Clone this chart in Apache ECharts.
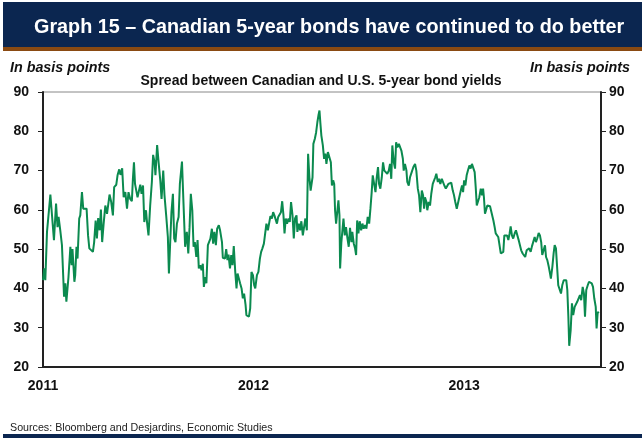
<!DOCTYPE html>
<html>
<head>
<meta charset="utf-8">
<script src="https://cdn.jsdelivr.net/npm/echarts@6/dist/echarts.min.js"></script>
<style>
  html, body { margin: 0; padding: 0; background: #fff; }
  #chart { width: 642px; height: 438px; }
</style>
</head>
<body>
<div id="chart"></div>
<script>
// Spread between Canadian and U.S. 5-year bond yields, in basis points.
// Time is given as decimal years.
const years = [
  2011.000, 2011.006, 2011.011, 2011.019, 2011.027, 2011.035, 2011.044, 2011.052, 2011.062, 2011.069,
  2011.074, 2011.082, 2011.090, 2011.100, 2011.106, 2011.111, 2011.121, 2011.130, 2011.136, 2011.140,
  2011.149, 2011.153, 2011.159, 2011.164, 2011.172, 2011.177, 2011.185, 2011.191, 2011.197, 2011.207,
  2011.214, 2011.220, 2011.228, 2011.237, 2011.243, 2011.250, 2011.256, 2011.262, 2011.269, 2011.275,
  2011.281, 2011.288, 2011.296, 2011.304, 2011.310, 2011.316, 2011.324, 2011.332, 2011.338, 2011.348,
  2011.354, 2011.362, 2011.368, 2011.376, 2011.383, 2011.391, 2011.399, 2011.406, 2011.414, 2011.422,
  2011.427, 2011.432, 2011.437, 2011.443, 2011.449, 2011.456, 2011.462, 2011.468, 2011.475, 2011.481,
  2011.489, 2011.494, 2011.501, 2011.509, 2011.517, 2011.523, 2011.530, 2011.534, 2011.542, 2011.549,
  2011.557, 2011.563, 2011.571, 2011.577, 2011.585, 2011.593, 2011.598, 2011.604, 2011.610, 2011.617,
  2011.623, 2011.629, 2011.636, 2011.644, 2011.650, 2011.660, 2011.667, 2011.675, 2011.683, 2011.690,
  2011.696, 2011.702, 2011.709, 2011.715, 2011.721, 2011.728, 2011.734, 2011.740, 2011.747, 2011.753,
  2011.759, 2011.764, 2011.770, 2011.776, 2011.783, 2011.789, 2011.795, 2011.802, 2011.808, 2011.814,
  2011.821, 2011.827, 2011.835, 2011.841, 2011.850, 2011.854, 2011.864, 2011.870, 2011.876, 2011.881,
  2011.888, 2011.894, 2011.900, 2011.906, 2011.913, 2011.919, 2011.924, 2011.930, 2011.936, 2011.943,
  2011.949, 2011.955, 2011.962, 2011.966, 2011.978, 2011.984, 2011.990, 2011.997, 2012.003, 2012.008,
  2012.016, 2012.023, 2012.030, 2012.036, 2012.042, 2012.049, 2012.055, 2012.061, 2012.068, 2012.074,
  2012.080, 2012.087, 2012.093, 2012.099, 2012.106, 2012.111, 2012.117, 2012.123, 2012.130, 2012.136,
  2012.142, 2012.147, 2012.153, 2012.159, 2012.166, 2012.172, 2012.178, 2012.185, 2012.191, 2012.197,
  2012.204, 2012.208, 2012.215, 2012.221, 2012.227, 2012.234, 2012.240, 2012.246, 2012.253, 2012.259,
  2012.265, 2012.271, 2012.280, 2012.284, 2012.291, 2012.297, 2012.303, 2012.308, 2012.313, 2012.317,
  2012.322, 2012.329, 2012.335, 2012.341, 2012.346, 2012.353, 2012.360, 2012.367, 2012.372, 2012.378,
  2012.383, 2012.387, 2012.392, 2012.398, 2012.403, 2012.408, 2012.411, 2012.417, 2012.427, 2012.433,
  2012.439, 2012.446, 2012.452, 2012.458, 2012.465, 2012.469, 2012.476, 2012.482, 2012.487, 2012.492,
  2012.498, 2012.504, 2012.511, 2012.517, 2012.523, 2012.530, 2012.536, 2012.542, 2012.549, 2012.555,
  2012.561, 2012.566, 2012.572, 2012.579, 2012.585, 2012.591, 2012.596, 2012.602, 2012.609, 2012.615,
  2012.621, 2012.629, 2012.635, 2012.642, 2012.648, 2012.654, 2012.659, 2012.666, 2012.672, 2012.677,
  2012.683, 2012.690, 2012.696, 2012.702, 2012.709, 2012.713, 2012.719, 2012.726, 2012.730, 2012.737,
  2012.743, 2012.751, 2012.759, 2012.767, 2012.773, 2012.780, 2012.786, 2012.792, 2012.799, 2012.805,
  2012.810, 2012.814, 2012.821, 2012.825, 2012.832, 2012.838, 2012.844, 2012.851, 2012.857, 2012.863,
  2012.868, 2012.875, 2012.881, 2012.887, 2012.894, 2012.900, 2012.906, 2012.913, 2012.919, 2012.925,
  2012.933, 2012.939, 2012.946, 2012.952, 2012.958, 2012.965, 2012.971, 2012.977, 2012.984, 2012.990,
  2012.995, 2013.000, 2013.006, 2013.012, 2013.018, 2013.025, 2013.031, 2013.037, 2013.044, 2013.050,
  2013.055, 2013.060, 2013.066, 2013.072, 2013.079, 2013.085, 2013.090, 2013.094, 2013.099, 2013.104,
  2013.110, 2013.117, 2013.123, 2013.132, 2013.139, 2013.145, 2013.150, 2013.156, 2013.162, 2013.167,
  2013.174, 2013.180, 2013.186, 2013.191, 2013.197, 2013.204, 2013.210, 2013.216, 2013.221, 2013.227,
  2013.233, 2013.240, 2013.246, 2013.252, 2013.259, 2013.265, 2013.271, 2013.278, 2013.284, 2013.290,
  2013.297, 2013.303, 2013.309, 2013.316, 2013.322, 2013.328, 2013.335, 2013.341, 2013.347, 2013.354,
  2013.360, 2013.366, 2013.371, 2013.378, 2013.384, 2013.389, 2013.395, 2013.402, 2013.408, 2013.412,
  2013.419, 2013.425, 2013.430, 2013.436, 2013.442, 2013.447, 2013.454, 2013.460, 2013.466, 2013.473,
  2013.479, 2013.485, 2013.490, 2013.495, 2013.499, 2013.506, 2013.512, 2013.518, 2013.525, 2013.531,
  2013.537, 2013.544, 2013.550, 2013.556, 2013.563, 2013.569, 2013.574, 2013.580, 2013.587, 2013.593,
  2013.599, 2013.606, 2013.612, 2013.618, 2013.625, 2013.629, 2013.634, 2013.639
];

const spread = [
  42.1, 45.1, 42.1, 54.4, 54.8, 63.9, 63.7, 52.3, 61.6, 55.6,
  58.2, 54.8, 51.0, 37.9, 41.3, 36.6, 42.9, 50.6, 45.9, 50.0,
  41.7, 43.4, 50.6, 47.6, 57.8, 58.6, 64.5, 60.3, 60.7, 60.3,
  53.5, 50.2, 49.7, 49.3, 51.8, 57.3, 52.7, 57.9, 54.8, 60.1,
  51.8, 56.5, 61.1, 59.0, 58.8, 63.9, 62.0, 58.6, 65.8, 66.4,
  68.8, 70.3, 68.9, 70.6, 63.2, 64.5, 60.3, 64.5, 62.8, 62.2,
  67.9, 72.1, 66.6, 67.1, 63.2, 63.0, 66.4, 64.1, 66.2, 56.9,
  59.9, 56.9, 53.5, 61.1, 67.1, 74.0, 72.1, 68.8, 76.5, 72.1,
  67.5, 62.8, 70.0, 63.7, 58.6, 53.1, 43.8, 44.2, 59.4, 64.1,
  52.7, 51.8, 56.5, 58.2, 66.6, 72.3, 62.0, 50.6, 54.4, 48.9,
  55.6, 64.1, 59.9, 50.6, 51.8, 48.0, 52.3, 45.1, 45.9, 44.6,
  46.3, 40.4, 42.9, 41.3, 51.0, 50.6, 52.7, 55.2, 51.4, 54.4,
  51.0, 55.2, 56.1, 54.8, 51.8, 47.8, 47.6, 50.0, 47.2, 48.6,
  45.1, 48.5, 45.9, 50.8, 44.2, 40.0, 43.8, 43.4, 41.3, 40.0,
  37.5, 38.7, 35.8, 33.2, 32.8, 34.9, 44.2, 43.4, 40.8, 40.0,
  43.4, 44.2, 47.6, 49.3, 50.2, 51.4, 51.8, 56.5, 54.8, 54.4,
  58.4, 57.8, 59.4, 58.6, 58.8, 56.5, 58.2, 58.6, 59.4, 62.2,
  58.6, 54.0, 57.8, 56.5, 57.8, 56.9, 62.0, 58.6, 52.7, 57.8,
  58.6, 54.4, 56.5, 54.8, 57.1, 53.5, 53.1, 57.8, 54.8, 74.3,
  68.3, 64.9, 68.3, 76.8, 78.1, 79.7, 82.3, 84.0, 85.3, 82.3,
  78.9, 76.4, 73.0, 74.3, 71.7, 74.7, 74.3, 72.1, 66.2, 67.5,
  66.6, 59.9, 56.5, 56.1, 62.4, 58.6, 45.1, 51.8, 57.8, 53.5,
  55.6, 52.7, 50.6, 55.4, 51.8, 54.4, 51.4, 50.2, 48.5, 57.3,
  54.0, 57.1, 54.8, 56.5, 55.2, 56.1, 55.2, 58.2, 56.5, 60.3,
  64.5, 68.8, 68.8, 64.5, 68.3, 70.9, 66.6, 65.4, 68.3, 72.1,
  70.0, 69.6, 69.2, 70.0, 71.7, 67.9, 76.4, 72.1, 70.5, 77.2,
  75.9, 76.8, 76.5, 75.1, 73.0, 70.0, 71.7, 70.0, 67.1, 66.2,
  68.3, 69.6, 70.9, 71.7, 70.0, 65.4, 63.7, 59.4, 64.9, 63.7,
  60.3, 63.2, 62.0, 59.9, 62.0, 61.1, 64.1, 66.6, 66.9, 68.3,
  69.2, 67.1, 67.9, 66.6, 67.9, 67.5, 66.2, 65.4, 66.0, 66.6,
  66.6, 66.9, 64.9, 63.7, 62.0, 60.3, 60.3, 63.2, 64.9, 66.2,
  64.5, 67.5, 66.2, 68.8, 70.0, 71.3, 70.5, 71.7, 72.1, 69.6,
  65.8, 61.1, 61.6, 63.2, 65.4, 63.7, 65.4, 63.2, 59.0, 59.9,
  61.1, 61.3, 60.9, 60.6, 57.3, 55.6, 54.0, 54.4, 53.1, 51.4,
  48.9, 48.7, 49.3, 53.5, 54.0, 53.5, 52.3, 54.0, 55.8, 53.5,
  52.7, 54.0, 54.8, 54.4, 52.3, 51.0, 49.7, 48.9, 48.9, 48.0,
  49.7, 49.3, 50.2, 49.3, 50.7, 51.2, 53.1, 51.8, 52.7, 54.1,
  53.5, 51.8, 48.5, 48.2, 51.0, 48.0, 47.2, 45.5, 43.8, 42.5,
  45.5, 48.9, 51.0, 50.2, 49.7, 40.8, 40.4, 38.7, 40.8, 42.1,
  41.7, 42.1, 39.6, 32.8, 25.4, 29.4, 36.2, 33.2, 35.3, 35.8,
  36.6, 36.2, 38.3, 37.0, 40.4, 38.7, 32.8, 39.6, 40.8, 41.7,
  41.3, 41.3, 40.4, 37.5, 35.3, 29.8, 33.7, 34.1
];

// Axis settings
const yearLabels = [2011, 2012, 2013];
const xRange = [2011, 2013.65];
const yRange = [20, 90];
const yStep = 10;

const titleText = 'Graph 15 \u2013 Canadian 5-year bonds have continued to do better';
const subtitleText = 'Spread between Canadian and U.S. 5-year bond yields';
const unitText = 'In basis points';
const sourceText = 'Sources: Bloomberg and Desjardins, Economic Studies';

const FONT = '"Liberation Sans", Arial, sans-serif';
const NAVY = '#0b2650';
const BROWN = '#8a4a12';
const GREEN = '#0b8a4f';

const chart = echarts.init(document.getElementById('chart'), null, { renderer: 'canvas' });

const seriesData = years.map((t, i) => [t, spread[i]]);

const yAxisCommon = {
  type: 'value',
  min: yRange[0],
  max: yRange[1],
  interval: yStep,
  splitLine: { show: false },
  axisLine: { show: true, lineStyle: { color: '#222', width: 2 } },
  axisTick: { show: true, length: 5, inside: false, lineStyle: { color: '#222', width: 1 } },
  axisLabel: { color: '#111', fontFamily: FONT, fontWeight: 'bold', fontSize: 14, margin: 14 }
};

chart.setOption({
  animation: false,
  backgroundColor: '#ffffff',
  graphic: [
    { type: 'rect', left: 3, top: 2, shape: { width: 639, height: 45 }, style: { fill: NAVY }, silent: true },
    { type: 'rect', left: 3, top: 47, shape: { width: 639, height: 4 }, style: { fill: BROWN }, silent: true },
    { type: 'text', left: 34, top: 18, style: { text: titleText, fill: '#ffffff', font: 'bold 19.8px ' + FONT } },
    { type: 'text', left: 10, top: 61, style: { text: unitText, fill: '#111', font: 'italic bold 14.3px ' + FONT } },
    { type: 'text', right: 12, top: 61, style: { text: unitText, fill: '#111', font: 'italic bold 14.3px ' + FONT, align: 'right' } },
    { type: 'text', left: 'center', top: 74, style: { text: subtitleText, fill: '#111', font: 'bold 14px ' + FONT } },
    { type: 'text', left: 10, top: 423, style: { text: sourceText, fill: '#222', font: '10.7px ' + FONT } },
    { type: 'rect', left: 3, top: 434, shape: { width: 639, height: 4 }, style: { fill: NAVY }, silent: true }
  ],
  grid: {
    left: 43, right: 41, top: 92, bottom: 71,
    show: true, borderColor: '#888', borderWidth: 1, backgroundColor: 'transparent'
  },
  xAxis: {
    type: 'value',
    min: xRange[0],
    max: xRange[1],
    interval: 1,
    splitLine: { show: false },
    axisLine: { show: true, onZero: false, lineStyle: { color: '#222', width: 2 } },
    axisTick: { show: false },
    axisLabel: {
      color: '#111', fontFamily: FONT, fontWeight: 'bold', fontSize: 14, margin: 12,
      showMaxLabel: false,
      formatter: v => (yearLabels.indexOf(Math.round(v)) >= 0 && Math.abs(v - Math.round(v)) < 1e-6) ? String(Math.round(v)) : ''
    }
  },
  yAxis: [
    Object.assign({}, yAxisCommon, { position: 'left' }),
    Object.assign({}, yAxisCommon, { position: 'right', axisLabel: Object.assign({}, yAxisCommon.axisLabel, { margin: 8 }) })
  ],
  series: [{
    type: 'line',
    data: seriesData,
    yAxisIndex: 0,
    showSymbol: false,
    symbol: 'none',
    lineStyle: { color: GREEN, width: 2 },
    z: 3
  }]
});
</script>
</body>
</html>
